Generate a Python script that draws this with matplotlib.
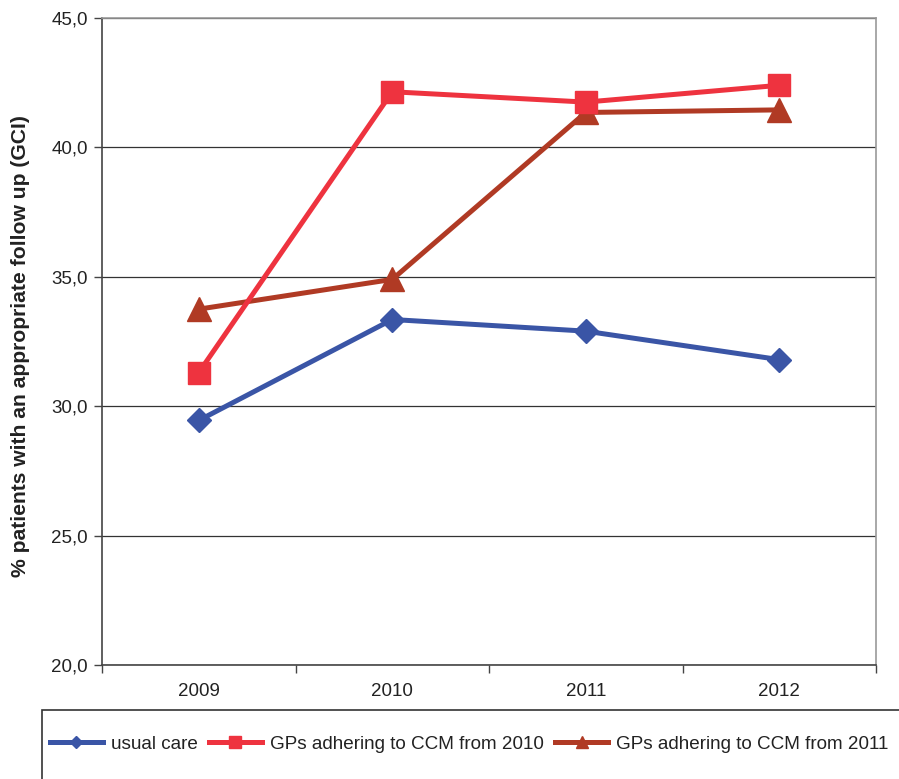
import matplotlib
matplotlib.use("Agg")
import matplotlib.pyplot as plt
from matplotlib.patches import Rectangle
from matplotlib.ticker import FixedLocator, FuncFormatter

plt.rcParams['font.family'] = ['Liberation Sans', 'DejaVu Sans']

years = ['2009', '2010', '2011', '2012']
usual_care = [29.45, 33.35, 32.9, 31.8]
ccm_2010 = [31.3, 42.15, 41.75, 42.4]
ccm_2011 = [33.75, 34.9, 41.35, 41.45]
labels = ['usual care', 'GPs adhering to CCM from 2010', 'GPs adhering to CCM from 2011']

fig = plt.figure(figsize=(8.99, 7.79), dpi=100)
ax = fig.add_axes([102/899, 1-665/779, (876-102)/899, (665-18)/779])

x = list(range(len(years)))
lw = 3.6
l1, = ax.plot(x, usual_care, color='#3A55A6', lw=lw, marker='D', ms=12, zorder=5)
l2, = ax.plot(x, ccm_2010, color='#EE333F', lw=lw, marker='s', ms=16, zorder=4)
l3, = ax.plot(x, ccm_2011, color='#B03A24', lw=lw, marker='^', ms=17, zorder=3)

ax.set_xlim(-0.5, 3.5)
ax.set_ylim(20, 45)
ax.set_yticks([20, 25, 30, 35, 40, 45])
ax.yaxis.set_major_formatter(FuncFormatter(lambda v, p: f"{v:.1f}".replace('.', ',')))
ax.grid(axis='y', color='#333333', lw=0.9)
ax.set_axisbelow(True)

ax.set_xticks(x)
ax.set_xticklabels(years)
ax.xaxis.set_minor_locator(FixedLocator([-0.5, 0.5, 1.5, 2.5, 3.5]))
ax.tick_params(axis='x', which='major', length=0, pad=13, labelsize=13.5, colors='#222222')
ax.tick_params(axis='x', which='minor', length=6, width=1, color='#444444')
ax.tick_params(axis='y', length=6, width=1, color='#444444', labelsize=13.5, labelcolor='#222222', pad=4)

for side in ('left', 'bottom'):
    ax.spines[side].set_color('#444444')
    ax.spines[side].set_linewidth(1.2)
for side in ('top', 'right'):
    ax.spines[side].set_color('#999999')
    ax.spines[side].set_linewidth(1.2)

fig.text(21/899, 1-346/779, '% patients with an appropriate follow up (GCI)', rotation=90,
         ha='center', va='center', fontsize=15.2, fontweight='bold', color='#222222')

# legend frame extending past the figure edge
fig.patches.append(Rectangle((42/899, -0.05), 1.0, (779-710)/779 + 0.05,
                             transform=fig.transFigure, fill=False,
                             edgecolor='#333333', lw=1.2))
fig.legend([l1, l2, l3], labels, loc='center left', bbox_to_anchor=(50/899, 1-744/779),
           ncol=3, frameon=False, fontsize=13.6, handlelength=2.8, handletextpad=0.42,
           columnspacing=0.6, markerscale=0.55, borderaxespad=0, borderpad=0,
           labelcolor='#222222')

fig.savefig('out.png', dpi=100)
